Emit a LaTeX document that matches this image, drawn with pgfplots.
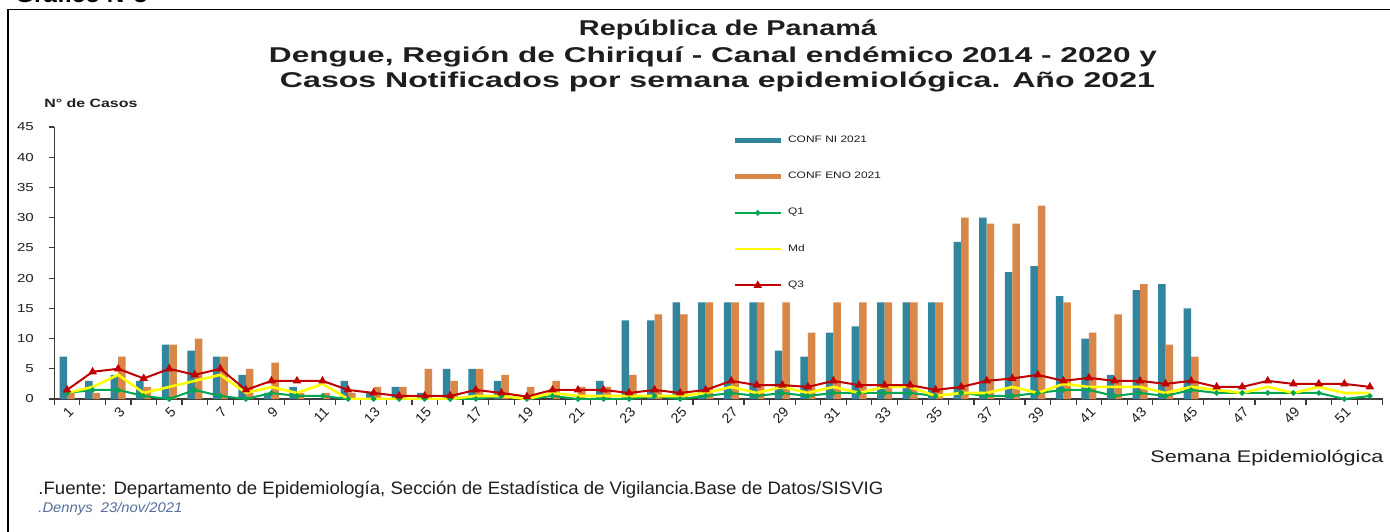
\documentclass[border=0pt]{standalone}
\usepackage{pgfplots}
\pgfplotsset{compat=1.18}
\usepackage{pgfplotstable}
\usepackage{graphicx}
\usepackage{fontspec}
\setmainfont{Liberation Sans}
\definecolor{cni}{RGB}{49,133,156}
\definecolor{ceno}{RGB}{217,135,72}
\definecolor{cq1}{RGB}{0,166,81}
\definecolor{cmd}{RGB}{255,255,0}
\definecolor{cq3}{RGB}{192,0,0}
\definecolor{axgray}{RGB}{60,60,60}
\definecolor{txt}{RGB}{30,30,30}
\definecolor{dennys}{RGB}{85,110,155}
\newcommand\lt[1]{\scalebox{1.27}[1]{#1}}

\pgfplotstableread{
w ni eno q1 md q3
1 7 1 1 1 1.5
2 3 1 1.5 2 4.5
3 4 7 1.5 4 5
4 3 2 0.5 1 3.4
5 9 9 0 2 5
6 8 10 1.5 3 4
7 7 7 0.5 4 5
8 4 5 0 1 1.5
9 1 6 1 2 3
10 2 1 0.5 1 3
11 0 1 0.5 2.5 3
12 3 1 0 0 1.5
13 1 2 0 0 1
14 2 2 0 0 0.5
15 1 5 0 0 0.5
16 5 3 0 0 0.5
17 5 5 0 0.5 1.5
18 3 4 0.5 0.5 1
19 0 2 0 0 0.4
20 0 3 0.5 1 1.5
21 0 2 0 0.5 1.5
22 3 2 0 0.5 1.5
23 13 4 0 0.5 1
24 13 14 0.5 0.5 1.5
25 16 14 0 0.5 1
26 16 16 0.5 1 1.5
27 16 16 1 2 3
28 16 16 0.5 1 2.3
29 8 16 1 2 2.3
30 7 11 0.5 1 2
31 11 16 1 2 3
32 12 16 1 1 2.3
33 16 16 1 2 2.3
34 16 16 1 2 2.3
35 16 16 0.5 0.5 1.5
36 26 30 1 1 2
37 30 29 0.5 1 3
38 21 29 0.5 2 3.4
39 22 32 1 1 4
40 17 16 1.5 2.5 3
41 10 11 1.5 2 3.5
42 4 14 0.5 2 3
43 18 19 1 2 3
44 19 9 0.5 1 2.5
45 15 7 1.5 2 3
46 0 0 1 1.5 2
47 0 0 1 1 2
48 0 0 1 2 3
49 0 0 1 1 2.5
50 0 0 1 2 2.5
51 0 0 0 1 2.5
52 0 0 0.5 1 2
}\data

\begin{document}
\begin{tikzpicture}
\begin{scope}[x=0.5pt,y=0.5pt]
\useasboundingbox (0,0) rectangle (1390,531);
\fill[white] (0,0) rectangle (1390,531);
% frame
\draw[line width=0.7pt,black] (8,-5) -- (8,521.7) -- (1400,521.7);
\node[anchor=base west,inner sep=0pt] at (15,528) {\resizebox{66pt}{\height}{\fontsize{11}{12}\selectfont\bfseries Gráfico N°3}};
% titles
\node[anchor=base,inner sep=0pt,txt] at (728,495) {\resizebox{149pt}{\height}{\fontsize{10.7}{12}\selectfont\bfseries República de Panamá}};
\node[anchor=base,inner sep=0pt,txt] at (713,468.3) {\resizebox{444pt}{\height}{\fontsize{10.7}{12}\selectfont\bfseries Dengue, Región de Chiriquí - Canal endémico 2014 - 2020 y}};
\node[anchor=base,inner sep=0pt,txt] at (717.5,443.7) {\resizebox{437.5pt}{\height}{\fontsize{10.7}{12}\selectfont\bfseries Casos Notificados por semana epidemiológica. Año 2021}};
\node[anchor=base west,inner sep=0pt,txt] at (44,423.7) {\resizebox{46.5pt}{\height}{\fontsize{6}{7}\selectfont\bfseries N° de Casos}};
\node[anchor=base west,inner sep=0pt,txt] at (1150,69) {\resizebox{116.5pt}{\height}{\fontsize{8.4}{9}\selectfont Semana Epidemiológica}};
\node[anchor=base west,inner sep=0pt,txt] at (38,37) {\resizebox{422.5pt}{\height}{\fontsize{9}{10}\selectfont .Fuente: Departamento de Epidemiología, Sección de Estadística de Vigilancia.Base de Datos/SISVIG}};
\node[anchor=base west,inner sep=0pt,dennys] at (38,19) {\resizebox{72pt}{\height}{\fontsize{7}{8}\selectfont\itshape .Dennys\ \ 23/nov/2021}};
\end{scope}

\begin{axis}[
  at={(27.15pt,66pt)}, anchor=south west,
  scale only axis, width=664.2pt, height=136pt,
  xmin=0.5, xmax=52.5, ymin=0, ymax=45,
  axis x line*=bottom, axis y line*=left,
  axis line style={axgray,line width=0.6pt},
  ytick={0,5,...,45},
  xtick={1,3,...,51},
  minor xtick={0.5,1.5,...,52.5},
  tick align=outside,
  major tick length=2.8pt, minor tick length=2.8pt,
  major x tick style={draw=none},
  minor x tick style={axgray,line width=0.6pt},
  major y tick style={axgray,line width=0.6pt},
  /pgf/number format/assume math mode=true,
  yticklabel style={font=\fontsize{5.8}{6}\selectfont, text=txt, xscale=1.3, xshift=-2.2pt},
  xticklabel style={font=\fontsize{7}{8}\selectfont, text=txt, rotate=45, anchor=east, yshift=-3.2pt, xshift=1pt, inner sep=1.2pt},
  legend style={at={(0.511,0.984)}, anchor=north west, draw=none, fill=none, inner sep=0pt,
    font=\fontsize{4.7}{5}\selectfont, text=txt, row sep=9.3pt, column sep=1pt},
  legend cell align=left,
]
\addplot[ybar, bar width=3.75pt, bar shift=-1.875pt, fill=cni, draw=none,
  legend image code/.code={\fill[cni] (0pt,-1.3pt) rectangle (23pt,1.3pt);}]
  table[x=w,y=ni]{\data};
\addlegendentry{\lt{CONF NI 2021}}
\addplot[ybar, bar width=3.75pt, bar shift=1.875pt, fill=ceno, draw=none,
  legend image code/.code={\fill[ceno] (0pt,-1.3pt) rectangle (23pt,1.3pt);}]
  table[x=w,y=eno]{\data};
\addlegendentry{\lt{CONF ENO 2021}}
\addplot[cq1, line width=1pt, mark=*, mark size=0.8pt,
  legend image code/.code={\draw[cq1,line width=1pt] (0pt,0pt) -- (23pt,0pt); \fill[cq1] (11.5pt,0pt) circle (0.8pt);}]
  table[x=w,y=q1]{\data};
\addlegendentry{\lt{Q1}}
\addplot[cmd, line width=1.3pt,
  legend image code/.code={\draw[cmd,line width=1.3pt] (0pt,0pt) -- (23pt,0pt);}]
  table[x=w,y=md]{\data};
\addlegendentry{\lt{Md}}
\addplot[cq3, line width=1pt, mark=triangle*, mark size=1.5pt,
  legend image code/.code={\draw[cq3,line width=1pt] (0pt,0pt) -- (23pt,0pt); \fill[cq3] (11.5pt,1.5pt) -- (10.2pt,-0.75pt) -- (12.8pt,-0.75pt) -- cycle;}]
  table[x=w,y=q3]{\data};
\addlegendentry{\lt{Q3}}
\end{axis}
\end{tikzpicture}
\end{document}
